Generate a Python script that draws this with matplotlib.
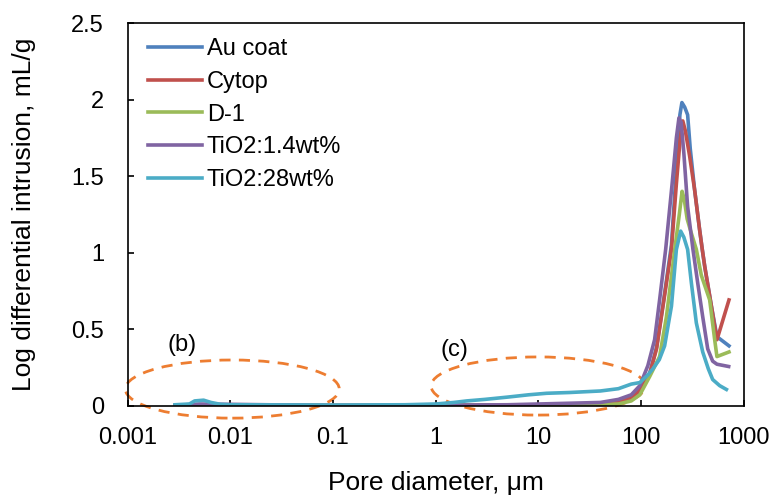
import matplotlib
matplotlib.use("Agg")
import matplotlib.pyplot as plt
from matplotlib.patches import Ellipse

plt.rcParams["font.family"] = ["Liberation Sans", "DejaVu Sans"]

# Diâmetro de poro (µm) e intrusão diferencial log (mL/g)
au_d = [0.0029, 0.005, 0.1, 1, 30, 60, 80, 97, 120, 141, 163, 197, 220, 238, 249,
        265, 283, 300, 331, 370, 393, 415, 482, 546, 715]
au_v = [0.0, 0.003, 0.0, 0.001, 0.005, 0.02, 0.05, 0.10, 0.20, 0.38, 0.66, 1.05, 1.55,
        1.90, 1.98, 1.95, 1.90, 1.68, 1.41, 1.15, 1.02, 0.91, 0.65, 0.45, 0.39]

cy_d = [0.0029, 0.005, 0.1, 1, 30, 60, 80, 97, 120, 141, 163, 197, 220, 240, 254,
        268, 296, 331, 370, 393, 415, 482, 546, 715]
cy_v = [0.0, 0.003, 0.0, 0.001, 0.005, 0.02, 0.05, 0.10, 0.20, 0.37, 0.65, 1.02, 1.45,
        1.75, 1.86, 1.80, 1.63, 1.41, 1.15, 1.02, 0.91, 0.65, 0.43, 0.69]

d1_d = [0.0029, 0.005, 0.1, 1, 30, 60, 80, 97, 121, 151, 176, 212, 235, 250, 262,
        280, 300, 344, 385, 464, 519, 546, 715]
d1_v = [0.0, 0.003, 0.0, 0.001, 0.003, 0.01, 0.03, 0.07, 0.19, 0.32, 0.58, 1.02, 1.25,
        1.40, 1.35, 1.22, 1.15, 1.02, 0.85, 0.69, 0.43, 0.32, 0.35]

ti14_d = [0.0029, 0.005, 0.1, 1, 5, 10, 20, 40, 60, 80, 97, 116, 135, 151, 173, 200,
          220, 233, 245, 260, 283, 319, 355, 397, 444, 496, 546, 710]
ti14_v = [0.0, 0.01, 0.0, 0.002, 0.005, 0.01, 0.015, 0.02, 0.04, 0.07, 0.13, 0.26, 0.43,
          0.69, 1.02, 1.45, 1.75, 1.88, 1.85, 1.65, 1.30, 1.02, 0.80, 0.58, 0.37, 0.29,
          0.27, 0.255]

ti28_d = [0.0029, 0.004, 0.0045, 0.0055, 0.0065, 0.008, 0.01, 0.1, 0.5, 1.0, 1.5, 2, 3,
          5, 8, 12, 20, 40, 60, 80, 97, 116, 130, 150, 169, 197, 220, 242, 260, 283,
          308, 344, 397, 450, 496, 580, 675]
ti28_v = [0.005, 0.01, 0.03, 0.035, 0.02, 0.008, 0.005, 0.003, 0.005, 0.01, 0.02, 0.03,
          0.04, 0.055, 0.07, 0.08, 0.085, 0.095, 0.11, 0.14, 0.15, 0.20, 0.24, 0.30,
          0.39, 0.65, 1.02, 1.14, 1.10, 1.02, 0.80, 0.54, 0.35, 0.24, 0.17, 0.13, 0.105]

series = [
    ("Au coat", au_d, au_v, "#4F81BD"),
    ("Cytop", cy_d, cy_v, "#C0504D"),
    ("D-1", d1_d, d1_v, "#9BBB59"),
    ("TiO2:1.4wt%", ti14_d, ti14_v, "#8064A2"),
    ("TiO2:28wt%", ti28_d, ti28_v, "#4BACC6"),
]

x_ticks = [0.001, 0.01, 0.1, 1, 10, 100, 1000]
x_labels = ["0.001", "0.01", "0.1", "1", "10", "100", "1000"]
y_ticks = [0, 0.5, 1, 1.5, 2, 2.5]
y_labels = ["0", "0.5", "1", "1.5", "2", "2.5"]

fig = plt.figure(figsize=(7.79, 4.98), dpi=100)
ax = fig.add_axes([0.1637, 0.1857, 0.7913, 0.7681])

for nome, d, v, cor in series:
    ax.plot(d, v, color=cor, lw=2.6, label=nome, solid_joinstyle="round")

ax.set_xscale("log")
ax.set_xlim(0.001, 1000)
ax.set_ylim(0, 2.5)
ax.set_xticks(x_ticks)
ax.set_xticklabels(x_labels)
ax.set_yticks(y_ticks)
ax.set_yticklabels(y_labels)
ax.minorticks_off()
ax.tick_params(direction="in", length=4, width=1.2, labelsize=17)
ax.tick_params(axis="x", pad=15.5)
ax.tick_params(axis="y", pad=17)
for s in ax.spines.values():
    s.set_linewidth(1.2)

ax.set_xlabel("Pore diameter, \u03bcm", fontsize=19, labelpad=16)
ax.set_ylabel("Log differential intrusion, mL/g", fontsize=19, labelpad=25)

# elipses tracejadas destacando as regiões (b) e (c)
for cx, cy in [(0.170, 0.043), (0.666, 0.051)]:
    ax.add_patch(Ellipse((cx, cy), 0.347, 0.152, transform=ax.transAxes, fill=False,
                         ec="#ED7D31", lw=2, ls=(0, (4, 3)), clip_on=False))
ax.text(0.088, 0.159, "(b)", transform=ax.transAxes, fontsize=17, ha="center", va="center")
ax.text(0.531, 0.146, "(c)", transform=ax.transAxes, fontsize=17, ha="center", va="center")

ax.legend(loc="upper left", bbox_to_anchor=(0.033, 0.96), frameon=False, fontsize=17,
          handlelength=2.3, handletextpad=0.2, labelspacing=0.45, borderpad=0,
          borderaxespad=0)

fig.savefig("out.png", dpi=100)
